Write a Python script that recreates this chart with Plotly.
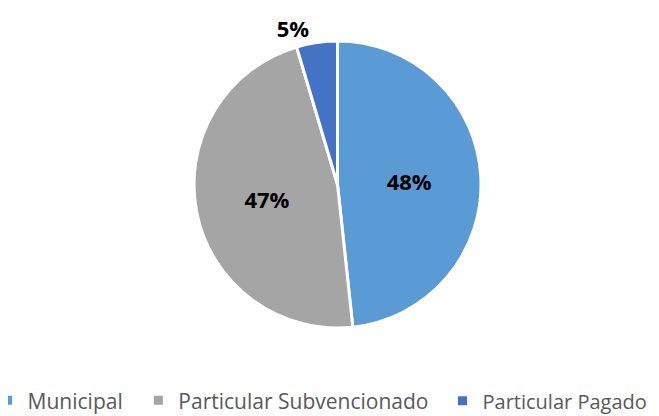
import plotly.graph_objects as go

labels = ["Municipal", "Particular Subvencionado", "Particular Pagado"]
values = [48.3, 47.1, 4.6]
colors = ["#5B9BD5", "#A5A5A5", "#4472C4"]
positions = ["inside", "inside", "outside"]

fig = go.Figure()
fig.add_trace(go.Pie(
    labels=labels,
    values=values,
    sort=False,
    direction="clockwise",
    rotation=0,
    domain=dict(x=[0, 0.975], y=[0, 1]),
    marker=dict(colors=colors, line=dict(color="white", width=3)),
    texttemplate="%{percent:.0%}",
    textposition=positions,
    textfont=dict(family="Open Sans", size=22, color="black", weight="bold"),
    insidetextorientation="horizontal",
    showlegend=False,
))

# legend entries (one legend per category so spacing matches the original)
legend_names = ["legend", "legend2", "legend3"]
legend_right = [0.183, 0.647, 0.978]
legend_fsize = [21, 21, 20]
for name, lab, col in zip(legend_names, labels, colors):
    fig.add_trace(go.Scatter(
        x=[None], y=[None], mode="markers", name=lab,
        marker=dict(symbol="square", size=9, color=col),
        legend=name, hoverinfo="skip",
    ))

layout_legends = {}
for name, xr, fs in zip(legend_names, legend_right, legend_fsize):
    layout_legends[name] = dict(
        orientation="h", xref="container", yref="container",
        xanchor="right", yanchor="middle", y=0.056, x=xr,
        font=dict(family="Open Sans", size=fs, color="#595959"),
        bgcolor="rgba(0,0,0,0)", itemwidth=30,
    )

fig.update_layout(
    width=659, height=416,
    margin=dict(l=0, r=30, t=26, b=96),
    paper_bgcolor="white",
    plot_bgcolor="white",
    xaxis=dict(visible=False),
    yaxis=dict(visible=False),
    **layout_legends,
)

fig.write_html("out.html")
